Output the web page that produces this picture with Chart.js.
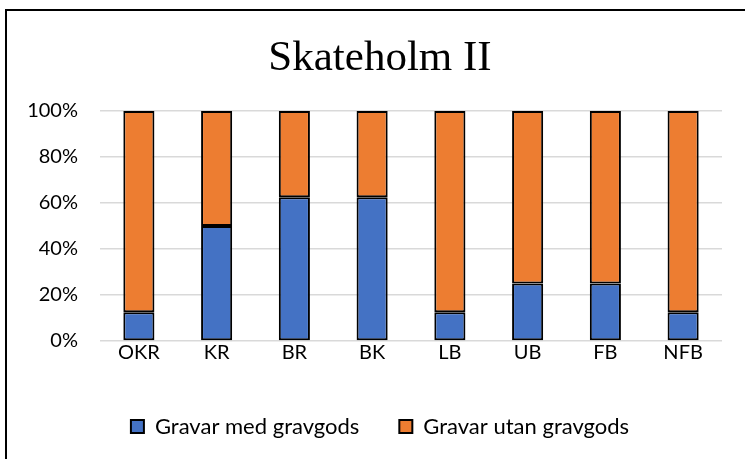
<!DOCTYPE html>
<html>
<head>
<meta charset="utf-8">
<script src="https://cdn.jsdelivr.net/npm/chart.js@4"></script>
<style>
html,body{margin:0;padding:0;background:#fff;}
#wrap{position:relative;width:745px;height:459px;}
</style>
</head>
<body>
<div id="wrap"><canvas id="c" width="745" height="459"></canvas></div>
<script>
const categories = ["OKR","KR","BR","BK","LB","UB","FB","NFB"];
const withGoods = [12.5, 50, 62.5, 62.5, 12.5, 25, 25, 12.5];
const withoutGoods = [87.5, 50, 37.5, 37.5, 87.5, 75, 75, 87.5];
const seriesNames = ["Gravar med gravgods", "Gravar utan gravgods"];
const yTicks = [0, 20, 40, 60, 80, 100];

const framePlugin = {
  id: 'frame',
  afterLayout(chart) {
    const t = chart.titleBlock;
    if (t) { t.left = 38; t.right = 722; t.width = 684; }
    const l = chart.legend;
    if (l) { l.left = 38; l.right = 722; l.width = 684; }
  },
  afterDraw(chart) {
    const ctx = chart.ctx;
    ctx.save();
    ctx.strokeStyle = '#000';
    ctx.lineWidth = 2;
    ctx.beginPath();
    ctx.moveTo(6, 470);
    ctx.lineTo(6, 10);
    ctx.lineTo(760, 10);
    ctx.stroke();
    ctx.restore();
  }
};

new Chart(document.getElementById('c'), {
  type: 'bar',
  data: {
    labels: categories,
    datasets: [
      { label: seriesNames[0], data: withGoods, backgroundColor: '#4472C4', borderColor: '#000', borderWidth: 2, borderSkipped: false },
      { label: seriesNames[1], data: withoutGoods, backgroundColor: '#ED7D31', borderColor: '#000', borderWidth: 2, borderSkipped: false }
    ]
  },
  options: {
    responsive: false,
    animation: false,
    devicePixelRatio: 1,
    layout: { padding: { top: 16, left: 10, right: 23, bottom: 11.5 } },
    datasets: { bar: { categoryPercentage: 1, barPercentage: 0.4 } },
    plugins: {
      title: {
        display: true,
        text: 'Skateholm II',
        color: '#000',
        font: { family: 'Liberation Serif', size: 43, weight: 'normal', lineHeight: 1 },
        padding: { top: 21, bottom: 31 }
      },
      legend: {
        position: 'bottom',
        labels: {
          color: '#000',
          font: { family: 'Lato', size: 22 },
          boxWidth: 13, boxHeight: 13,
          padding: 40
        }
      },
      tooltip: { enabled: false }
    },
    scales: {
      x: {
        stacked: true,
        grid: { display: false, drawTicks: false },
        border: { display: false },
        ticks: { color: '#000', font: { family: 'Lato', size: 20 }, padding: 0 },
        afterFit(s) { s.height = 34.5; }
      },
      y: {
        stacked: true,
        min: 0, max: 100,
        afterBuildTicks(s) { s.ticks = yTicks.map(v => ({ value: v })); },
        grid: { color: '#d9d9d9', lineWidth: 1.5, drawTicks: false },
        border: { display: false },
        ticks: { color: '#000', font: { family: 'Lato', size: 20 }, padding: 22, callback: v => v + '%' },
        afterFit(s) { s.width = 90; }
      }
    }
  },
  plugins: [framePlugin]
});
</script>
</body>
</html>
